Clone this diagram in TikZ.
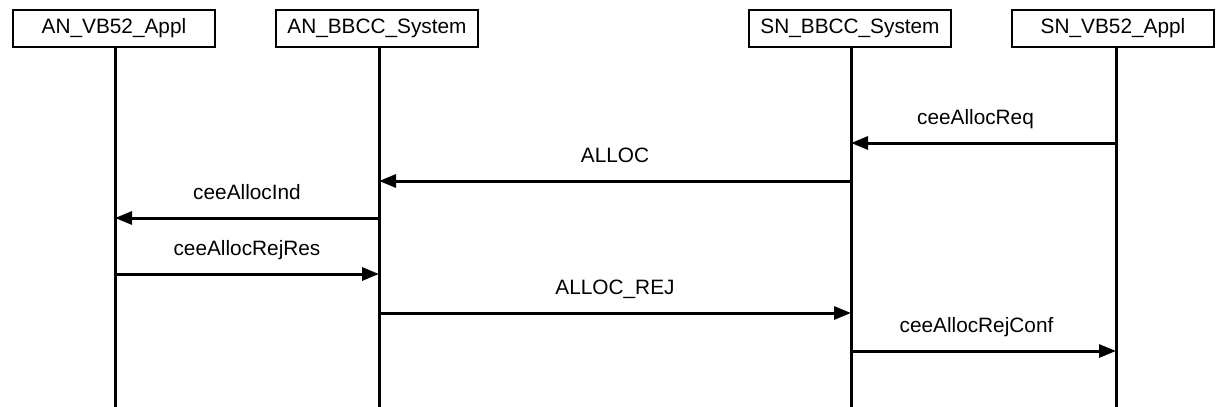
\documentclass[tikz,border=0pt]{standalone}
\usepackage{fontspec}
\setmainfont{Liberation Sans}
\usepackage{tikz}
\usetikzlibrary{arrows.meta}

\begin{document}
\begin{tikzpicture}[x=0.5pt,y=-0.5pt,
		entity/.style={draw, line width=0.6pt, minimum width=101pt, minimum height=18.5pt, inner sep=0pt, font=\fontsize{10.4}{12}\selectfont},
		life/.style={line width=1.5pt},
		msg/.style={line width=1.5pt, -{Triangle[length=8.5pt,width=6.5pt]}},
		lbl/.style={midway, anchor=base, yshift=9.5pt, inner sep=0pt, font=\fontsize{10.4}{12}\selectfont}]
		\useasboundingbox (0,0) rectangle (1216,407);
		\node[entity] (av) at (114,28.5) {AN\_VB52\_Appl};
		\node[entity] (ab) at (377,28.5) {AN\_BBCC\_System};
		\node[entity] (sb) at (850,28.5) {SN\_BBCC\_System};
		\node[entity] (sv) at (1113,28.5) {SN\_VB52\_Appl};
		\coordinate (avend) at (115,407);
		\coordinate (abend) at (379,407);
		\coordinate (sbend) at (851,407);
		\coordinate (svend) at (1116,407);
		\draw[life] (av.south -| avend) -- (avend);
		\draw[life] (ab.south -| abend) -- (abend);
		\draw[life] (sb.south -| sbend) -- (sbend);
		\draw[life] (sv.south -| svend) -- (svend);
		% messages
		\draw[msg] (svend |- 0,143) -- (sbend |- 0,143) node[lbl, xshift=-4pt] {ceeAllocReq};
		\draw[msg] (sbend |- 0,181) -- (abend |- 0,181) node[lbl] {ALLOC};
		\draw[msg] (abend |- 0,218) -- (avend |- 0,218) node[lbl] {ceeAllocInd};
		\draw[msg] (avend |- 0,274) -- (abend |- 0,274) node[lbl] {ceeAllocRejRes};
		\draw[msg] (abend |- 0,313) -- (sbend |- 0,313) node[lbl] {ALLOC\_REJ};
		\draw[msg] (sbend |- 0,351) -- (svend |- 0,351) node[lbl, xshift=-3.5pt] {ceeAllocRejConf};
	\end{tikzpicture}
\end{document}
